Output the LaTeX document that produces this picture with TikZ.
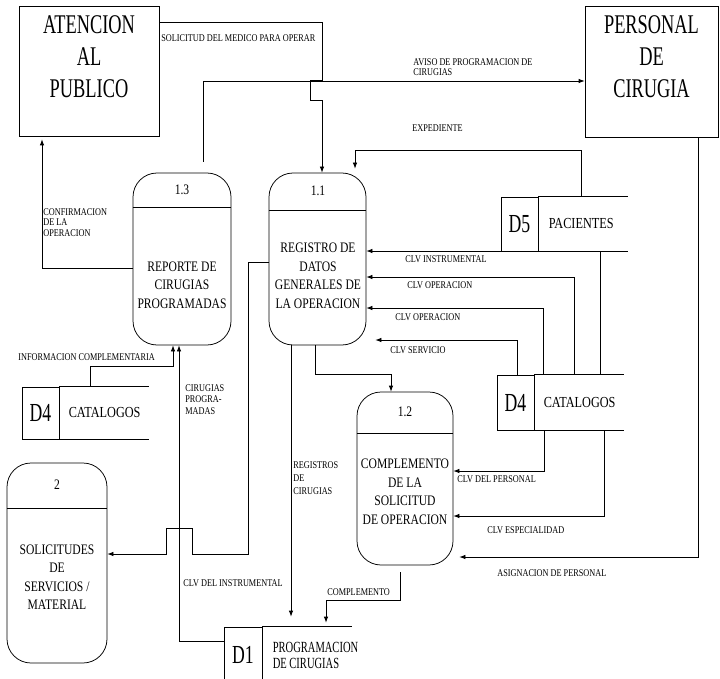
\documentclass[tikz,border=0pt]{standalone}
\usepackage{fontspec}
\usetikzlibrary{arrows.meta,positioning}
\newfontfamily\dfdbig[FakeStretch=0.68]{Liberation Serif}
\newfontfamily\dfdsmall[FakeStretch=0.8]{Liberation Serif}

\begin{document}
\begin{tikzpicture}[x=1pt, y=-1pt, line width=0.75pt,
    entity/.style={draw, inner sep=0pt},
    entitytxt/.style={anchor=north, inner sep=0pt, align=center, font=\dfdbig\fontsize{27}{32}\selectfont},
    proc/.style={draw, rounded corners=24pt, inner sep=0pt},
    procnum/.style={inner sep=0pt, font=\dfdsmall\fontsize{14.5}{18}\selectfont},
    proctxt/.style={inner sep=0pt, align=center, font=\dfdsmall\fontsize{14.5}{18.5}\selectfont},
    store/.style={draw, minimum width=37pt, inner sep=0pt, font=\dfdbig\fontsize{26}{28}\selectfont},
    storename/.style={inner sep=0pt, align=left, font=\dfdsmall\fontsize{15.3}{17}\selectfont},
    lbl/.style={inner sep=0pt, align=left, font=\dfdsmall\fontsize{10.3}{10.5}\selectfont},
    flow/.style={-{Latex[length=6pt,width=4.5pt]}}]
	%%%%% START %%%%%
	\useasboundingbox (0,0) rectangle (720,679);
	
	% externals
	\node[entity, minimum width=140pt, minimum height=130pt] (atn) at (89,71) {};
	\node[entitytxt] (atntxt) at (89,15) {ATENCION\\AL\\PUBLICO};
	\node[entity, minimum width=133pt, minimum height=131pt] (prs) at (651.5,71.5) {};
	\node[entitytxt] (prstxt) at (651.5,15) {PERSONAL\\DE\\CIRUGIA};
	
	% processes
	\node[proc, minimum width=98pt, minimum height=172pt] (p13) at (182,259) {};
	\node[proc, minimum width=97pt, minimum height=172pt] (p11) at (317.5,259) {};
	\node[proc, minimum width=96pt, minimum height=173pt] (p12) at (405,478.5) {};
	\node[proc, minimum width=100pt, minimum height=200pt] (p2) at (57,563) {};
	\draw (p13.west |- 0,207) -- (p13.east |- 0,207);
	\draw (p11.west |- 0,210) -- (p11.east |- 0,210);
	\draw (p12.west |- 0,433) -- (p12.east |- 0,433);
	\draw (p2.west |- 0,508) -- (p2.east |- 0,508);
	\node[procnum] (p13num) at (182,190) {1.3};
	\node[procnum] (p11num) at (318,191) {1.1};
	\node[procnum] (p12num) at (405,412) {1.2};
	\node[procnum] (p2num) at (57,485) {2};
	\node[proctxt] (p13txt) at (182,285) {REPORTE DE\\CIRUGIAS\\PROGRAMADAS};
	\node[proctxt] (p11txt) at (318,276) {REGISTRO DE\\DATOS\\GENERALES DE\\LA OPERACION};
	\node[proctxt] (p12txt) at (405,492) {COMPLEMENTO\\DE LA\\SOLICITUD\\DE OPERACION};
	\node[proctxt] (p2txt) at (57,577) {SOLICITUDES\\DE\\SERVICIOS /\\MATERIAL};
	
	% data stores
	\node[store, minimum height=52pt] (d4a) at (40.5,413) {D4};
	\node[store, minimum height=54pt] (d5) at (519.5,224) {D5};
	\node[store, minimum height=55pt] (d4b) at (515.5,402.5) {D4};
	\node[store, minimum height=56pt, minimum width=38pt] (d1) at (243,655) {D1};
	\foreach \s in {d4a,d5,d4b,d1}
		\draw (\s.north east) -- ++(90,0) (\s.south east) -- ++(90,0);
	\node[storename, right=9pt of d4a] (d4aname) {CATALOGOS};
	\node[storename, right=10pt of d5] (d5name) {PACIENTES};
	\node[storename, right=9pt of d4b] (d4bname) {CATALOGOS};
	\node[storename, right=10pt of d1, font=\dfdbig\fontsize{15.5}{16}\selectfont] (d1name) {PROGRAMACION\\DE CIRUGIAS};
	
	% flows
	\draw[flow] (atn.east |- 0,22) -- (322,22) -- (322,80) -- (310,80) -- (310,100) -- (322,100) -- (p11.north -| 322,0);
	\draw[flow, shorten <=11pt] (p13.north -| 203,0) -- (203,81) -- (prs.west |- 0,81);
	\draw[flow, shorten >=4pt] (d5.north -| 581,0) -- (581,150) -- (355,150) -- (p11.north -| 355,0);
	\draw[flow] (d4b.north -| 600,0) -- (600,251) -- (p11.east |- 0,251);
	\draw[flow] (d4b.north -| 574,0) -- (574,277) -- (p11.east |- 0,277);
	\draw[flow] (d4b.north -| 543,0) -- (543,308) -- (p11.east |- 0,308);
	\draw[flow, shorten >=9pt] (d4b.north -| 517,0) -- (517,340) -- (p11.east |- 0,340);
	\draw[flow] (p11.south -| 315,0) -- (315,374) -- (391,374) -- (p12.north -| 391,0);
	\draw[flow, shorten >=10pt] (p11.south -| 291,0) -- (d1.north -| 291,0);
	\draw[flow, shorten <=7pt, shorten >=4pt] (p12.south -| 400,0) -- (400,600) -- (326,600) -- (d1.north -| 326,0);
	\draw[flow] (d4b.south -| 544,0) -- (544,471) -- (p12.east |- 0,471);
	\draw[flow] (d4b.south -| 604,0) -- (604,516) -- (p12.east |- 0,516);
	\draw[flow, shorten >=6pt] (prs.south -| 698,0) -- (698,557) -- (p12.east |- 0,557);
	\draw[flow, shorten >=3pt] (p13.west |- 0,268) -- (42,268) -- (atn.south -| 42,0);
	\draw[flow] (d4a.north -| 90,0) -- (90,366) -- (173,366) -- (p13.south -| 173,0);
	\draw[flow] (d1.west |- 0,641) -- (179,641) -- (p13.south -| 179,0);
	\draw[flow] (p11.west |- 0,262) -- (248,262) -- (248,554) -- (192,554) -- (192,528) -- (166,528) -- (166,554) -- (p2.east |- 0,554);
	
	% labels
	\node[lbl, anchor=west] (l1) at (161,38) {SOLICITUD DEL MEDICO PARA OPERAR};
	\node[lbl, anchor=north west] (l2) at (413,58) {AVISO DE PROGRAMACION DE\\CIRUGIAS};
	\node[lbl, anchor=west] (l3) at (412,128) {EXPEDIENTE};
	\node[lbl, anchor=north west] (l4) at (43,208) {CONFIRMACION\\DE LA\\OPERACION};
	\node[lbl, anchor=west] (l5) at (18,357) {INFORMACION COMPLEMENTARIA};
	\node[lbl, anchor=north west, font=\dfdsmall\fontsize{10.3}{11.5}\selectfont] (l6) at (185,384) {CIRUGIAS\\PROGRA-\\MADAS};
	\node[lbl, anchor=west] (l7) at (183,583) {CLV DEL INSTRUMENTAL};
	\node[lbl, anchor=north west, font=\dfdsmall\fontsize{10.3}{13}\selectfont] (l8) at (293,461) {REGISTROS\\DE\\CIRUGIAS};
	\node[lbl, anchor=west] (l9) at (327,592) {COMPLEMENTO};
	\node[lbl, anchor=west] (l10) at (405,259) {CLV INSTRUMENTAL};
	\node[lbl, anchor=west] (l11) at (407,285) {CLV OPERACION};
	\node[lbl, anchor=west] (l12) at (395,317) {CLV OPERACION};
	\node[lbl, anchor=west] (l13) at (390,350) {CLV SERVICIO};
	\node[lbl, anchor=west] (l14) at (457,479) {CLV DEL PERSONAL};
	\node[lbl, anchor=west] (l15) at (487,530) {CLV ESPECIALIDAD};
	\node[lbl, anchor=west] (l16) at (497,573) {ASIGNACION DE PERSONAL};
	%%%%% END %%%%%
\end{tikzpicture}
\end{document}
